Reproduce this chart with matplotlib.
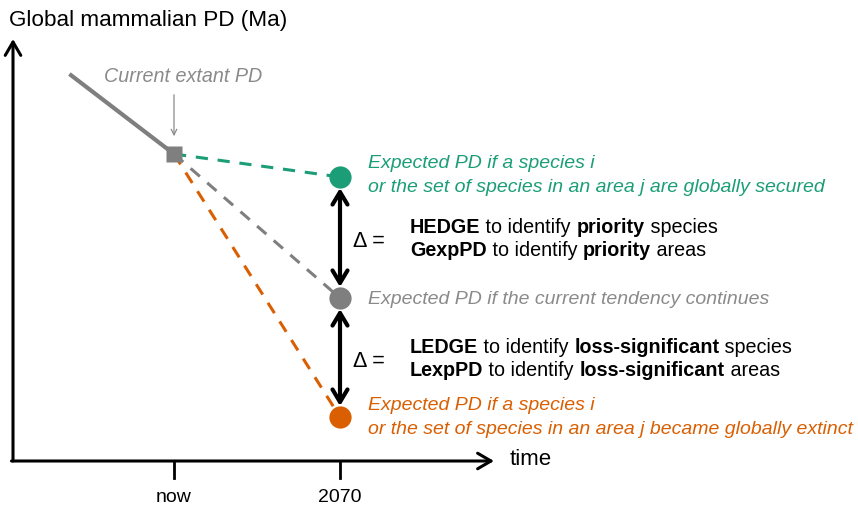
import matplotlib
matplotlib.use("Agg")
import matplotlib.pyplot as plt
from matplotlib.patches import FancyArrowPatch

plt.rcParams['font.family'] = ['Liberation Sans', 'DejaVu Sans']

# ---- data (time: now=0, 2070=1 ; PD in arbitrary units) ----
tick_pos = [0.0, 1.0]
tick_labels = ["now", "2070"]
trend_t = [-0.63, 0.0]
trend_pd = [387, 307]
now_pd = 307
scen_t = 1.0
scen_pd = [284, 163, 44]          # secured, current tendency, extinct
scen_colors = ["#1b9e77", "#7f7f7f", "#d95f02"]
scen_text_colors = ["#1b9e77", "#8a8a8a", "#d95f02"]
scen_labels = [
    ["Expected PD if a species i", "or the set of species in an area j are globally secured"],
    ["Expected PD if the current tendency continues"],
    ["Expected PD if a species i", "or the set of species in an area j became globally extinct"],
]
delta_lines = [
    [[("HEDGE", True), (" to identify ", False), ("priority", True), (" species", False)],
     [("GexpPD", True), (" to identify ", False), ("priority", True), (" areas", False)]],
    [[("LEDGE", True), (" to identify ", False), ("loss-significant", True), (" species", False)],
     [("LexpPD", True), (" to identify ", False), ("loss-significant", True), (" areas", False)]],
]
ylabel = "Global mammalian PD (Ma)"
xlabel = "time"
current_label = "Current extant PD"

# ---- figure ----
fig = plt.figure(figsize=(8.58, 5.06), dpi=100)
ax = fig.add_axes([0, 0, 1, 1])
px = 1 / 166.0  # time units per pixel
ax.set_xlim(-174 * px, (858 - 174) * px)
ax.set_ylim(-44, 462)
ax.axis("off")
renderer = fig.canvas.get_renderer()

x0 = -161 * px  # axis origin in time units
fs = 14
fsb = 14.2

# axes arrows
ax.add_patch(FancyArrowPatch((x0, 0), (x0, 422), arrowstyle="->,head_length=6,head_width=3.5",
                             lw=2.2, color="black", mutation_scale=1.6, shrinkA=0, shrinkB=0))
ax.add_patch(FancyArrowPatch((x0 - 1.5 * px, 0), (2.0 - 12 * px, 0), arrowstyle="->,head_length=6,head_width=3.5",
                             lw=2.2, color="black", mutation_scale=1.6, shrinkA=0, shrinkB=0))
ax.text(x0 - 4 * px, 442, ylabel, fontsize=16.2, ha="left", va="center")
ax.text(2.0 + 4 * px, 2, xlabel, fontsize=16, ha="left", va="center")

# ticks
for t, lab in zip(tick_pos, tick_labels):
    ax.plot([t, t], [0, -17], color="black", lw=2)
    ax.text(t, -36, lab, fontsize=14, ha="center", va="center")

# trend line
ax.plot(trend_t, trend_pd, color="#7f7f7f", lw=3, solid_capstyle="butt", zorder=3)

# dashed projections
for pd_, c in zip(scen_pd, scen_colors):
    ax.plot([0, scen_t], [now_pd, pd_], color=c, lw=2.2, ls=(0, (4, 3.2)), zorder=2)

# current square
ax.plot([0], [now_pd], marker="s", ms=12, color="#7f7f7f", mec="none", zorder=4)
ax.annotate("", xy=(0, now_pd + 15), xytext=(0, now_pd + 62),
            arrowprops=dict(arrowstyle="->", color="#8a8a8a", lw=0.9))
ax.text(9 * px, 386, current_label, fontsize=14.2, style="italic", color="#8a8a8a",
        ha="center", va="center")

# scenario circles
for pd_, c in zip(scen_pd, scen_colors):
    ax.plot([scen_t], [pd_], marker="o", ms=16, color=c, mec="none", zorder=4)

# scenario labels
tx = scen_t + 28 * px
first_off = [14.5, 0, 12.5]
for pd_, lines, c, off in zip(scen_pd, scen_labels, scen_text_colors, first_off):
    if len(lines) == 1:
        ax.text(tx, pd_, lines[0], fontsize=fs, style="italic", color=c, ha="left", va="center")
    else:
        ax.text(tx, pd_ + off, lines[0], fontsize=fs, style="italic", color=c, ha="left", va="center")
        ax.text(tx, pd_ + off - 24, lines[1], fontsize=fs, style="italic", color=c, ha="left", va="center")

# double arrows and delta texts
inv = ax.transData.inverted()
pairs = [(scen_pd[0], scen_pd[1]), (scen_pd[1], scen_pd[2])]
for (top, bot), block in zip(pairs, delta_lines):
    ax.add_patch(FancyArrowPatch((scen_t, top - 11), (scen_t, bot + 11),
                                 arrowstyle="<->,head_length=5,head_width=3", mutation_scale=1.8,
                                 lw=3, color="black", shrinkA=0, shrinkB=0, zorder=3))
    mid = (top + bot) / 2
    ax.text(scen_t + 13 * px, mid - 3, "Δ =", fontsize=15.5, ha="left", va="center")
    for k, pieces in enumerate(block):
        y = mid + 5.5 - 23 * k
        x = scen_t + 70 * px
        for txt, bold in pieces:
            w = "bold" if bold else "normal"
            t = ax.text(x, y, txt, fontsize=fsb, fontweight=w, ha="left", va="baseline")
            bb = t.get_window_extent(renderer)
            x = inv.transform((bb.x1, bb.y0))[0]

fig.savefig("out.png", dpi=100)
